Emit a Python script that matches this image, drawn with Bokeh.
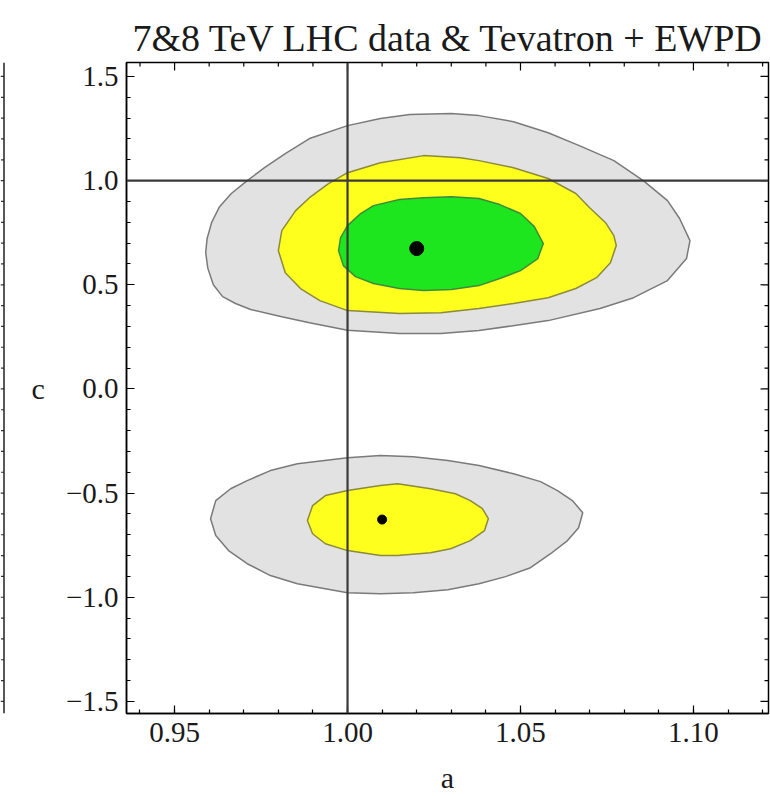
import numpy as np
from bokeh.plotting import figure
from bokeh.models import Range1d, Span, FixedTicker
from bokeh.layouts import row
from bokeh.embed import file_html
from bokeh.resources import INLINE

# ---------------- data ----------------
title_text = "7&8 TeV LHC data & Tevatron + EWPD"
x_label = "a"
y_label = "c"
x_ticks = [0.95, 1.00, 1.05, 1.10]
x_tick_labels = ["0.95", "1.00", "1.05", "1.10"]
y_ticks = [-1.5, -1.0, -0.5, 0.0, 0.5, 1.0, 1.5]
y_tick_labels = ["\u22121.5", "\u22121.0", "\u22120.5", "0.0", "0.5", "1.0", "1.5"]
sm_a = 1.0
sm_c = 1.0

# upper region (c > 0)
gray_up_a = [0.959, 0.9594, 0.9607, 0.963, 0.9664, 0.971, 0.976, 0.982, 0.989, 1.000, 1.0095, 1.018,
             1.030, 1.038, 1.048, 1.058, 1.067, 1.077, 1.0855, 1.0925, 1.096, 1.099, 1.098, 1.0925,
             1.0827, 1.073, 1.058, 1.038, 1.027, 1.015, 1.000, 0.989, 0.981, 0.972, 0.9676, 0.9639,
             0.9612, 0.9596]
gray_up_c = [0.654, 0.722, 0.798, 0.875, 0.938, 1.000, 1.062, 1.130, 1.202, 1.264, 1.298, 1.317,
             1.322, 1.312, 1.283, 1.230, 1.168, 1.096, 1.000, 0.904, 0.818, 0.712, 0.626, 0.520,
             0.438, 0.386, 0.328, 0.280, 0.266, 0.266, 0.282, 0.318, 0.347, 0.381, 0.410, 0.443,
             0.500, 0.580]

yellow_up_a = [0.980, 0.981, 0.985, 0.989, 0.9945, 1.000, 1.0095, 1.022, 1.0327, 1.038, 1.048, 1.058,
               1.066, 1.070, 1.0746, 1.077, 1.0777, 1.076, 1.072, 1.066, 1.058, 1.048, 1.038, 1.027,
               1.015, 1.000, 0.992, 0.9864, 0.982]
yellow_up_c = [0.664, 0.760, 0.856, 0.918, 0.986, 1.038, 1.086, 1.120, 1.110, 1.096, 1.062, 1.010,
               0.938, 0.870, 0.798, 0.736, 0.688, 0.606, 0.534, 0.482, 0.438, 0.410, 0.386, 0.366,
               0.362, 0.376, 0.424, 0.482, 0.558]

green_up_a = [0.9974, 0.998, 1.000, 1.0038, 1.0075, 1.015, 1.022, 1.030, 1.038, 1.044, 1.050, 1.054,
              1.0566, 1.055, 1.050, 1.044, 1.038, 1.030, 1.022, 1.015, 1.0075, 1.0023, 0.9988]
green_up_c = [0.664, 0.726, 0.784, 0.842, 0.880, 0.909, 0.918, 0.923, 0.914, 0.885, 0.842, 0.779,
              0.698, 0.626, 0.568, 0.530, 0.496, 0.477, 0.472, 0.482, 0.506, 0.539, 0.592]

# lower region (c < 0)
gray_lo_a = [0.9604, 0.9619, 0.9662, 0.971, 0.9777, 0.9855, 1.000, 1.0095, 1.019, 1.029, 1.038, 1.048,
             1.0558, 1.0607, 1.065, 1.068, 1.0668, 1.0636, 1.0587, 1.0529, 1.0457, 1.038, 1.029, 1.019,
             1.0095, 1.000, 0.9855, 0.9777, 0.971, 0.9656, 0.9619]
gray_lo_c = [-0.623, -0.536, -0.479, -0.440, -0.392, -0.359, -0.330, -0.320, -0.325, -0.344, -0.368, -0.407,
             -0.445, -0.488, -0.536, -0.594, -0.666, -0.728, -0.791, -0.858, -0.901, -0.935, -0.964, -0.978,
             -0.983, -0.978, -0.935, -0.896, -0.839, -0.776, -0.704]

yellow_lo_a = [0.9884, 0.9899, 0.9936, 1.000, 1.0095, 1.0145, 1.024, 1.0312, 1.0355, 1.039, 1.0407,
               1.0396, 1.0355, 1.0298, 1.024, 1.0145, 1.0095, 1.000, 0.9936, 0.9899]
yellow_lo_c = [-0.632, -0.560, -0.512, -0.488, -0.464, -0.455, -0.479, -0.503, -0.536, -0.575, -0.623,
               -0.680, -0.728, -0.767, -0.786, -0.800, -0.800, -0.776, -0.743, -0.695]

best_up_a = [1.020]
best_up_c = [0.674]
best_lo_a = [1.010]
best_lo_c = [-0.627]

# ---------------- styles ----------------
SERIF = "Liberation Serif"
GRAY_FILL, GRAY_LINE = "#e2e2e2", "#7a7a7a"
YEL_FILL, YEL_LINE = "#ffff1e", "#8c8a3c"
GRN_FILL, GRN_LINE = "#1ee61e", "#3c8c3c"

X0, X1 = 0.9361, 1.1217
Y0, Y1 = -1.558, 1.567
W, H = 764, 796
BL, BR, BT, BB = 120, 2, 62, 83
FW, FH = W - BL - BR, H - BT - BB
px_x = (X1 - X0) / FW   # data units per pixel (x)
px_y = (Y1 - Y0) / FH   # data units per pixel (y)

x_range = Range1d(X0, X1)
y_range = Range1d(Y0, Y1)

p = figure(width=W, height=H, x_range=x_range, y_range=y_range,
           output_backend="svg", toolbar_location=None,
           min_border_left=BL, min_border_right=BR, min_border_top=BT, min_border_bottom=BB)
p.grid.visible = False
p.background_fill_color = "white"
p.border_fill_color = "white"
p.outline_line_color = "black"
p.outline_line_width = 1.5

p.title.text = title_text
p.title.text_font = SERIF
p.title.text_font_size = "38px"
p.title.text_font_style = "normal"
p.title.text_color = "#1a1a1a"
p.title.align = "left"
p.title.offset = 6
p.title.standoff = 7

x_minor = [float(v) for v in np.round(np.arange(0.94, 1.125, 0.01), 3)]
y_minor = [float(v) for v in np.round(np.arange(-1.5, 1.55, 0.1), 2)]
xt = FixedTicker(ticks=x_ticks, minor_ticks=x_minor)
yt = FixedTicker(ticks=y_ticks, minor_ticks=y_minor)


def style_axis(ax, ticker, labels):
    ax.ticker = ticker
    ax.axis_line_color = "black"
    ax.axis_line_width = 1.5
    ax.major_tick_in = 8
    ax.major_tick_out = 0
    ax.minor_tick_in = 4
    ax.minor_tick_out = 0
    ax.major_tick_line_color = "black"
    ax.minor_tick_line_color = "black"
    ax.major_tick_line_width = 1.2
    ax.minor_tick_line_width = 1.2
    ax.major_label_overrides = labels
    ax.major_label_text_font = SERIF
    ax.major_label_text_font_size = "29px"
    ax.major_label_text_color = "#1a1a1a"


xa = p.xaxis[0]
style_axis(xa, xt, {v: s for v, s in zip(x_ticks, x_tick_labels)})
xa.major_label_standoff = 9
xa.axis_label = x_label
xa.axis_label_text_font = SERIF
xa.axis_label_text_font_size = "30px"
xa.axis_label_text_font_style = "normal"
xa.axis_label_text_color = "#1a1a1a"
xa.axis_label_standoff = 16

ya = p.yaxis[0]
style_axis(ya, yt, {v: s for v, s in zip(y_ticks, y_tick_labels)})
ya.major_label_standoff = 8
ya.axis_label = y_label
ya.axis_label_text_font = SERIF
ya.axis_label_text_font_size = "30px"
ya.axis_label_text_font_style = "normal"
ya.axis_label_text_color = "#1a1a1a"
ya.axis_label_standoff = 18
if "axis_label_orientation" in ya.properties():
    ya.axis_label_orientation = "horizontal"

# mirrored ticks on the top and right frame edges
maj_x = [v for v in x_ticks]
min_x = [v for v in x_minor if v not in x_ticks]
maj_y = [v for v in y_ticks]
min_y = [v for v in y_minor if v not in y_ticks]
p.segment(x0=maj_x, y0=[Y1] * len(maj_x), x1=maj_x, y1=[Y1 - 8 * px_y] * len(maj_x),
          line_color="black", line_width=1.2)
p.segment(x0=min_x, y0=[Y1] * len(min_x), x1=min_x, y1=[Y1 - 4 * px_y] * len(min_x),
          line_color="black", line_width=1.2)
p.segment(x0=[X1] * len(maj_y), y0=maj_y, x1=[X1 - 8 * px_x] * len(maj_y), y1=maj_y,
          line_color="black", line_width=1.2)
p.segment(x0=[X1] * len(min_y), y0=min_y, x1=[X1 - 4 * px_x] * len(min_y), y1=min_y,
          line_color="black", line_width=1.2)

# confidence regions
p.patch(gray_up_a, gray_up_c, fill_color=GRAY_FILL, line_color=GRAY_LINE, line_width=1.5)
p.patch(yellow_up_a, yellow_up_c, fill_color=YEL_FILL, line_color=YEL_LINE, line_width=1.5)
p.patch(green_up_a, green_up_c, fill_color=GRN_FILL, line_color=GRN_LINE, line_width=1.5)
p.patch(gray_lo_a, gray_lo_c, fill_color=GRAY_FILL, line_color=GRAY_LINE, line_width=1.5)
p.patch(yellow_lo_a, yellow_lo_c, fill_color=YEL_FILL, line_color=YEL_LINE, line_width=1.5)

# SM reference lines
p.add_layout(Span(location=sm_a, dimension="height", line_color="#3a3a3a", line_width=2.2))
p.add_layout(Span(location=sm_c, dimension="width", line_color="#3a3a3a", line_width=2.2))

# best-fit points
p.scatter(best_up_a, best_up_c, size=14, color="black")
p.scatter(best_lo_a, best_lo_c, size=9, color="black")

# sliver of the neighbouring panel at the left edge (its right frame edge with ticks)
SW = 6
s = figure(width=SW, height=H, x_range=Range1d(0, SW), y_range=Range1d(Y0, Y1),
           output_backend="svg", toolbar_location=None,
           x_axis_location=None, y_axis_location=None,
           min_border_left=0, min_border_right=0, min_border_top=BT - 5, min_border_bottom=BB)
s.grid.visible = False
s.outline_line_color = None
s.border_fill_color = "white"
s.background_fill_color = "white"
s.add_layout(Span(location=3.5, dimension="height", line_color="#222222", line_width=1.5))
s.segment(x0=[0] * len(maj_y), y0=maj_y, x1=[3.5] * len(maj_y), y1=maj_y, line_color="#333333", line_width=1.2)
s.segment(x0=[0.5] * len(min_y), y0=min_y, x1=[3.5] * len(min_y), y1=min_y, line_color="#333333", line_width=1.2)
s.segment(x0=[0], y0=[Y1 + 5 * px_y], x1=[3.5], y1=[Y1 + 5 * px_y], line_color="#222222", line_width=1.5)

layout = row(s, p)
open("out.html", "w").write(file_html(layout, INLINE))
